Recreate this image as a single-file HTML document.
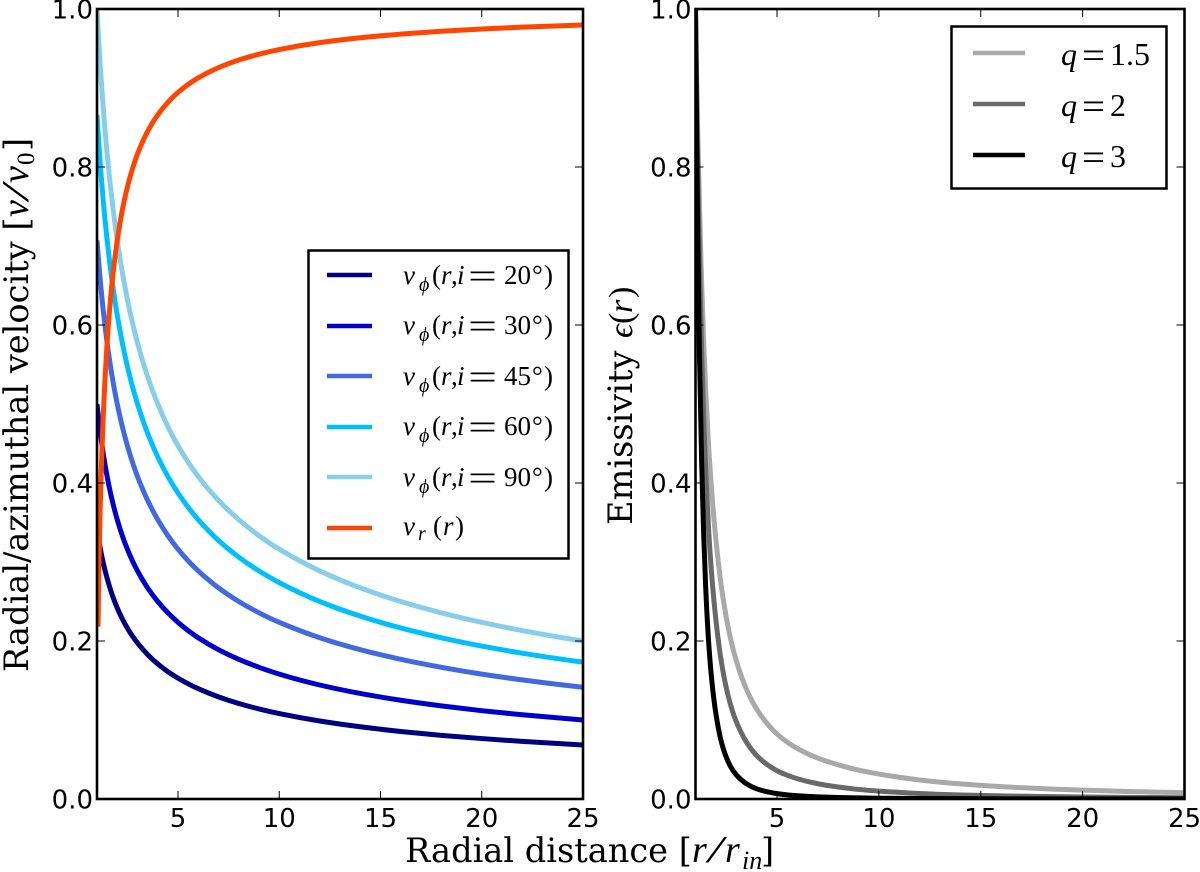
<!DOCTYPE html>
<html lang="en">
<head>
<meta charset="utf-8">
<title>Radial/azimuthal velocity and emissivity</title>
<style>
html,body{margin:0;padding:0;background:#fff;width:1200px;height:872px;overflow:hidden}
svg{display:block}
.tick-label{font-family:"DejaVu Sans","Liberation Sans",sans-serif;font-size:26px;fill:#000}
.axis-title{font-family:"DejaVu Serif","Liberation Serif",serif;font-size:33.6px;fill:#000}
.math{font-family:"Liberation Serif",serif;font-style:italic}
.rm{font-family:"Liberation Serif",serif}
.legend-text{font-family:"Liberation Serif",serif;font-size:27px;fill:#000}
.legend-text-large{font-family:"Liberation Serif",serif;font-size:32px;fill:#000}
</style>
</head>
<body>
<svg id="figure" xmlns="http://www.w3.org/2000/svg" width="1200" height="872" viewBox="0 0 1200 872">
  <defs>
    <clipPath id="clip-left"><rect x="97" y="9" width="486" height="790"/></clipPath>
    <clipPath id="clip-right"><rect x="695.5" y="9" width="489" height="790"/></clipPath>
  </defs>
  <rect x="0" y="0" width="1200" height="872" fill="#fff"/>
  <g id="left-panel"></g>
  <g id="right-panel"></g>

  <text class="axis-title" transform="translate(28,672) rotate(-90)" x="0" y="0">Radial/azimuthal velocity [<tspan class="math" font-size="38" x="455">v</tspan><tspan class="math" font-size="38" x="472" textLength="15" lengthAdjust="spacingAndGlyphs">/</tspan><tspan class="math" font-size="38" x="489">v</tspan><tspan class="rm" font-size="25" x="507" dy="6">0</tspan><tspan x="521" dy="-6">]</tspan></text>
  <text class="axis-title" transform="translate(632,525) rotate(-90)" x="0" y="0">Emissivity <tspan class="math" font-size="34" x="187">&#1013;</tspan><tspan class="rm" font-size="34" x="201">(</tspan><tspan class="math" font-size="34" x="212">r</tspan><tspan class="rm" font-size="34" x="227">)</tspan></text>
  <text class="axis-title" x="405" y="862">Radial distance [<tspan class="math" font-size="38" x="692">r</tspan><tspan class="math" font-size="38" x="708" textLength="15" lengthAdjust="spacingAndGlyphs">/</tspan><tspan class="math" font-size="38" x="725">r</tspan><tspan class="math" font-size="26" x="742" dy="7">in</tspan><tspan x="761" dy="-7">]</tspan></text>

  <g>
    <rect x="308.5" y="250.5" width="260" height="308" fill="#fff" stroke="#000" stroke-width="2.5"/>
    <line x1="327" x2="372" y1="275" y2="275" stroke="#000080" stroke-width="4.5"/>
    <line x1="327" x2="372" y1="326" y2="326" stroke="#0000CD" stroke-width="4.5"/>
    <line x1="327" x2="372" y1="376" y2="376" stroke="#4169E1" stroke-width="4.5"/>
    <line x1="327" x2="372" y1="427" y2="427" stroke="#00BFFF" stroke-width="4.5"/>
    <line x1="327" x2="372" y1="477" y2="477" stroke="#87CEEB" stroke-width="4.5"/>
    <line x1="327" x2="372" y1="528" y2="528" stroke="#FF4500" stroke-width="4.5"/>
    <text class="legend-text" x="403" y="284"><tspan class="math">v</tspan><tspan class="math" font-size="20" x="419" dy="7">&#981;</tspan><tspan x="432" dy="-7">(</tspan><tspan class="math" x="441">r</tspan><tspan x="451">,</tspan><tspan class="math" x="457">i</tspan><tspan x="468" font-size="36" dy="4" textLength="29" lengthAdjust="spacingAndGlyphs">=</tspan><tspan x="504" dy="-4">20</tspan><tspan x="532">°</tspan><tspan x="544">)</tspan></text>
    <text class="legend-text" x="403" y="334"><tspan class="math">v</tspan><tspan class="math" font-size="20" x="419" dy="7">&#981;</tspan><tspan x="432" dy="-7">(</tspan><tspan class="math" x="441">r</tspan><tspan x="451">,</tspan><tspan class="math" x="457">i</tspan><tspan x="468" font-size="36" dy="4" textLength="29" lengthAdjust="spacingAndGlyphs">=</tspan><tspan x="504" dy="-4">30</tspan><tspan x="532">°</tspan><tspan x="544">)</tspan></text>
    <text class="legend-text" x="403" y="385"><tspan class="math">v</tspan><tspan class="math" font-size="20" x="419" dy="7">&#981;</tspan><tspan x="432" dy="-7">(</tspan><tspan class="math" x="441">r</tspan><tspan x="451">,</tspan><tspan class="math" x="457">i</tspan><tspan x="468" font-size="36" dy="4" textLength="29" lengthAdjust="spacingAndGlyphs">=</tspan><tspan x="504" dy="-4">45</tspan><tspan x="532">°</tspan><tspan x="544">)</tspan></text>
    <text class="legend-text" x="403" y="435"><tspan class="math">v</tspan><tspan class="math" font-size="20" x="419" dy="7">&#981;</tspan><tspan x="432" dy="-7">(</tspan><tspan class="math" x="441">r</tspan><tspan x="451">,</tspan><tspan class="math" x="457">i</tspan><tspan x="468" font-size="36" dy="4" textLength="29" lengthAdjust="spacingAndGlyphs">=</tspan><tspan x="504" dy="-4">60</tspan><tspan x="532">°</tspan><tspan x="544">)</tspan></text>
    <text class="legend-text" x="403" y="486"><tspan class="math">v</tspan><tspan class="math" font-size="20" x="419" dy="7">&#981;</tspan><tspan x="432" dy="-7">(</tspan><tspan class="math" x="441">r</tspan><tspan x="451">,</tspan><tspan class="math" x="457">i</tspan><tspan x="468" font-size="36" dy="4" textLength="29" lengthAdjust="spacingAndGlyphs">=</tspan><tspan x="504" dy="-4">90</tspan><tspan x="532">°</tspan><tspan x="544">)</tspan></text>
    <text class="legend-text" x="403" y="535"><tspan class="math">v</tspan><tspan class="math" font-size="20" x="418" dy="5">r</tspan><tspan x="433" dy="-5">(</tspan><tspan class="math" x="443">r</tspan><tspan x="455">)</tspan></text>
  </g>

  <g>
    <rect x="951.5" y="26.5" width="215" height="162" fill="#fff" stroke="#000" stroke-width="2.5"/>
    <line x1="973" x2="1025" y1="53" y2="53" stroke="#A9A9A9" stroke-width="4.5"/>
    <line x1="973" x2="1025" y1="104" y2="104" stroke="#696969" stroke-width="4.5"/>
    <line x1="973" x2="1025" y1="155" y2="155" stroke="#000000" stroke-width="4.5"/>
    <text class="legend-text-large" x="1061" y="65"><tspan class="math">q</tspan><tspan x="1082" font-size="38" dy="3" textLength="23" lengthAdjust="spacingAndGlyphs">=</tspan><tspan x="1110" dy="-3">1.5</tspan></text>
    <text class="legend-text-large" x="1061" y="116"><tspan class="math">q</tspan><tspan x="1082" font-size="38" dy="3" textLength="23" lengthAdjust="spacingAndGlyphs">=</tspan><tspan x="1110" dy="-3">2</tspan></text>
    <text class="legend-text-large" x="1061" y="167"><tspan class="math">q</tspan><tspan x="1082" font-size="38" dy="3" textLength="23" lengthAdjust="spacingAndGlyphs">=</tspan><tspan x="1110" dy="-3">3</tspan></text>
  </g>
</svg>

<script>
// ---- chart data ----
const radius = [1,1.05,1.1,1.15,1.2,1.3,1.4,1.5,1.65,1.8,2,2.25,2.5,2.75,3,3.5,4,4.5,5,5.5,6,7,8,9,10,12,14,16,18,20,22,25];

const vPhi20 = [.3420,.3338,.3261,.3189,.3122,.3000,.2891,.2793,.2663,.2549,.2418,.2280,.2163,.2062,.1975,.1828,.1710,.1612,.1530,.1458,.1396,.1293,.1209,.1140,.1081,.0987,.0914,.0855,.0806,.0765,.0729,.0684];
const vPhi30 = [.5000,.4880,.4767,.4663,.4564,.4385,.4226,.4082,.3892,.3727,.3536,.3333,.3162,.3015,.2887,.2673,.2500,.2357,.2236,.2132,.2041,.1890,.1768,.1667,.1581,.1443,.1336,.1250,.1179,.1118,.1066,.1000];
const vPhi45 = [.7071,.6901,.6742,.6594,.6455,.6202,.5976,.5774,.5505,.5270,.5000,.4714,.4472,.4264,.4082,.3780,.3536,.3333,.3162,.3015,.2887,.2673,.2500,.2357,.2236,.2041,.1890,.1768,.1667,.1581,.1508,.1414];
const vPhi60 = [.8660,.8451,.8257,.8076,.7906,.7596,.7319,.7071,.6742,.6455,.6124,.5774,.5477,.5222,.5000,.4629,.4330,.4082,.3873,.3693,.3536,.3273,.3062,.2887,.2739,.2500,.2315,.2165,.2041,.1936,.1846,.1732];
const vPhi90 = [1.0000,.9759,.9535,.9325,.9129,.8771,.8452,.8165,.7785,.7454,.7071,.6667,.6325,.6030,.5774,.5345,.5000,.4714,.4472,.4264,.4082,.3780,.3536,.3333,.3162,.2887,.2673,.2500,.2357,.2236,.2132,.2000];
const vRadial = [null,.2182,.3015,.3612,.4082,.4804,.5345,.5774,.6276,.6667,.7071,.7454,.7746,.7977,.8165,.8452,.8660,.8819,.8944,.9045,.9129,.9258,.9354,.9428,.9487,.9574,.9636,.9682,.9718,.9747,.9770,.9798];

const emisQ15 = [1,.9247,.8581,.7987,.7455,.6545,.5796,.5171,.4435,.3872,.3288,.2726,.2315,.1996,.1752,.1390,.1138,.0959,.0822,.0721,.0639,.0518,.0433,.0366,.0316,.0241,.0191,.0156,.0131,.0112,.0097,.0080];
const emisQ2 = [1,.9007,.8157,.7410,.6757,.5680,.4832,.4151,.3383,.2824,.2270,.1768,.1421,.1166,.0980,.0720,.0551,.0439,.0358,.0301,.0256,.0193,.0152,.0121,.0100,.0069,.0051,.0039,.0031,.0025,.0021,.0016];
const emisQ3 = [1,.8552,.7363,.6378,.5556,.4283,.3360,.2674,.1968,.1499,.1081,.0743,.0536,.0398,.0306,.0193,.0129,.0092,.0068,.0052,.0041,.0027,.0019,.0014,.0010,.0006,.0004,.0002,.0002,.0001,.0001,.0001];

const xTickValues = [5,10,15,20,25];
const yTickValues = [0,0.2,0.4,0.6,0.8,1.0];
const xTickLabels = ['5','10','15','20','25'];
const yTickLabels = ['0.0','0.2','0.4','0.6','0.8','1.0'];

const NS = 'http://www.w3.org/2000/svg';

function make(parent, tag, attrs) {
  const el = document.createElementNS(NS, tag);
  for (const k in attrs) el.setAttribute(k, attrs[k]);
  parent.appendChild(el);
  return el;
}

// monotone cubic path through pixel points (weighted harmonic tangents)
function monotonePath(pts) {
  const n = pts.length;
  const h = [], m = [], t = [];
  for (let i = 0; i < n - 1; i++) {
    h[i] = pts[i + 1][0] - pts[i][0];
    m[i] = (pts[i + 1][1] - pts[i][1]) / h[i];
  }
  const edge = (h0, h1, m0, m1) => {
    const e = ((2 * h0 + h1) * m0 - h0 * m1) / (h0 + h1);
    return e * m0 <= 0 ? 0 : e;
  };
  t[0] = edge(h[0], h[1], m[0], m[1]);
  t[n - 1] = edge(h[n - 2], h[n - 3], m[n - 2], m[n - 3]);
  for (let i = 1; i < n - 1; i++) {
    t[i] = m[i - 1] * m[i] <= 0 ? 0 :
      3 * (h[i - 1] + h[i]) / ((2 * h[i] + h[i - 1]) / m[i - 1] + (h[i] + 2 * h[i - 1]) / m[i]);
  }
  let d = 'M' + pts[0][0].toFixed(2) + ',' + pts[0][1].toFixed(2);
  for (let i = 0; i < n - 1; i++) {
    const s = h[i] / 3;
    d += 'C' + (pts[i][0] + s).toFixed(2) + ',' + (pts[i][1] + s * t[i]).toFixed(2) + ' ' +
         (pts[i + 1][0] - s).toFixed(2) + ',' + (pts[i + 1][1] - s * t[i + 1]).toFixed(2) + ' ' +
         pts[i + 1][0].toFixed(2) + ',' + pts[i + 1][1].toFixed(2);
  }
  return d;
}

function drawPanel(panelId, clipId, left, right, series) {
  const top = 9, bottom = 799;
  const xScale = r => left + (r - 1) * (right - left) / 24;
  const yScale = v => bottom - v * (bottom - top);
  const panel = document.getElementById(panelId);

  const clipGroup = make(panel, 'g', { 'clip-path': 'url(#' + clipId + ')' });
  series.forEach(s => {
    const pts = [];
    s.values.forEach((v, i) => { if (v !== null) pts.push([xScale(radius[i]), yScale(v)]); });
    const path = make(clipGroup, 'path', {
      d: monotonePath(pts), fill: 'none', stroke: s.color,
      'stroke-width': 5, 'stroke-linejoin': 'round'
    });
    
    
  });

  xTickValues.forEach((v, i) => {
    const x = xScale(v);
    const t1 = make(panel, 'line', { x1: x, x2: x, y1: bottom, y2: bottom - 8, stroke: '#000', 'stroke-width': 1 });
    
    
    const t2 = make(panel, 'line', { x1: x, x2: x, y1: top, y2: top + 8, stroke: '#000', 'stroke-width': 1 });
    
    
    const lab = make(panel, 'text', { class: 'tick-label', x: x, y: 827, 'text-anchor': 'middle' });
    lab.textContent = xTickLabels[i];
    
    
  });

  yTickValues.forEach((v, i) => {
    const y = yScale(v);
    const t1 = make(panel, 'line', { x1: left, x2: left + 8, y1: y, y2: y, stroke: '#000', 'stroke-width': 1 });
    
    
    const t2 = make(panel, 'line', { x1: right, x2: right - 8, y1: y, y2: y, stroke: '#000', 'stroke-width': 1 });
    
    
    const lab = make(panel, 'text', { class: 'tick-label', x: left - 4, y: y + 9.5, 'text-anchor': 'end' });
    lab.textContent = yTickLabels[i];
    
    
  });

  const frame = make(panel, 'rect', {
    x: left, y: top, width: right - left, height: bottom - top,
    fill: 'none', stroke: '#000', 'stroke-width': 2.6
  });
  
  
}

drawPanel('left-panel', 'clip-left', 97, 583, [
  { name: 'line-vphi-20deg', color: '#000080', values: vPhi20 },
  { name: 'line-vphi-30deg', color: '#0000CD', values: vPhi30 },
  { name: 'line-vphi-45deg', color: '#4169E1', values: vPhi45 },
  { name: 'line-vphi-60deg', color: '#00BFFF', values: vPhi60 },
  { name: 'line-vphi-90deg', color: '#87CEEB', values: vPhi90 },
  { name: 'line-vr', color: '#FF4500', values: vRadial }
]);

drawPanel('right-panel', 'clip-right', 695.5, 1184.5, [
  { name: 'line-emissivity-q1-5', color: '#A9A9A9', values: emisQ15 },
  { name: 'line-emissivity-q2', color: '#696969', values: emisQ2 },
  { name: 'line-emissivity-q3', color: '#000000', values: emisQ3 }
]);
</script>
</body>
</html>
